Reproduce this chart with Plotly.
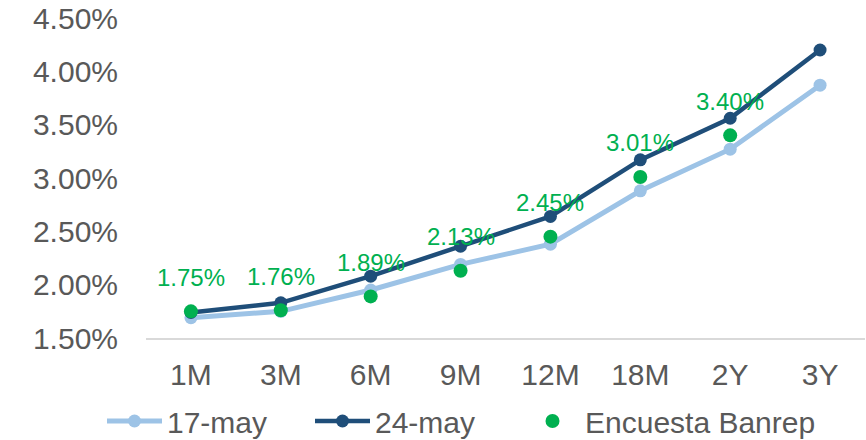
import plotly.graph_objects as go

categories = ["1M", "3M", "6M", "9M", "12M", "18M", "2Y", "3Y"]
may17 = [1.69, 1.75, 1.95, 2.19, 2.38, 2.88, 3.27, 3.87]
may24 = [1.74, 1.83, 2.08, 2.36, 2.64, 3.17, 3.56, 4.20]
banrep = [1.75, 1.76, 1.89, 2.13, 2.45, 3.01, 3.40, None]
y_ticks = [1.5, 2.0, 2.5, 3.0, 3.5, 4.0, 4.5]
y_tick_labels = ["%.2f%%" % v for v in y_ticks]

FONT = "Arial, Liberation Sans, sans-serif"
GRAY = "#595959"
GREEN = "#00B050"

fig = go.Figure()
fig.add_trace(go.Scatter(
    x=categories, y=may17, name="17-may", mode="lines+markers",
    line=dict(color="#9DC3E6", width=5),
    marker=dict(color="#9DC3E6", size=13), legend="legend",
))
fig.add_trace(go.Scatter(
    x=categories, y=may24, name="24-may", mode="lines+markers",
    line=dict(color="#1F4E79", width=4.5),
    marker=dict(color="#1F4E79", size=13), legend="legend2",
))
fig.add_trace(go.Scatter(
    x=categories, y=banrep, name="Encuesta Banrep", mode="markers",
    marker=dict(color=GREEN, size=14), legend="legend3",
))

annotations = []
for c, v in zip(categories, banrep):
    if v is None:
        continue
    annotations.append(dict(
        x=c, y=v, xref="x", yref="y", text="%.2f%%" % v, showarrow=False,
        yshift=34, font=dict(color=GREEN, size=24, family=FONT),
    ))


def legend_at(px):
    return dict(orientation="h", xref="container", yref="container",
                x=px / 866, xanchor="left", y=19 / 440, yanchor="middle",
                font=dict(size=30, color=GRAY, family=FONT), itemwidth=55,
                bgcolor="rgba(0,0,0,0)")


fig.update_layout(
    width=866, height=440,
    margin=dict(l=146, r=1, t=18, b=102, autoexpand=False),
    paper_bgcolor="white", plot_bgcolor="white",
    font=dict(family=FONT, color=GRAY, size=30),
    showlegend=True,
    annotations=annotations,
    legend=legend_at(102),
    legend2=legend_at(310),
    legend3=legend_at(520),
)
fig.update_xaxes(
    type="category", categoryorder="array", categoryarray=categories,
    range=[-0.5, 7.5], showgrid=False, showline=True, linecolor="#D9D9D9", linewidth=1.5,
    ticks="outside", ticklen=9, tickcolor="rgba(0,0,0,0)",
    tickfont=dict(size=30, color=GRAY, family=FONT), zeroline=False,
    automargin=False,
)
fig.update_yaxes(
    range=[1.5, 4.5], tickvals=y_ticks, ticktext=y_tick_labels,
    showgrid=False, zeroline=False, showline=False,
    ticks="outside", ticklen=21, tickcolor="rgba(0,0,0,0)",
    tickfont=dict(size=30, color=GRAY, family=FONT), automargin=False,
)

fig.write_html("out.html", config={"displayModeBar": False},
               post_script="document.body.style.margin='0';")
